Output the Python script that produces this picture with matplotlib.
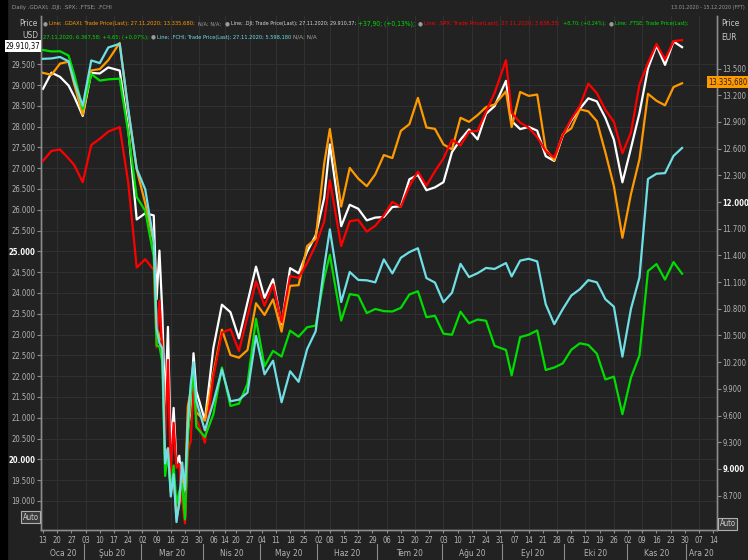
import numpy as np
import pandas as pd
import matplotlib
matplotlib.use('Agg')
import matplotlib.pyplot as plt
from matplotlib import font_manager

W, H = 748, 560

# sample dates (daily through the March crash, every ~3 trading days elsewhere)
dates = ['2020-01-13', '2020-01-16', '2020-01-21', '2020-01-24', '2020-01-28', '2020-01-31',
         '2020-02-05', '2020-02-10', '2020-02-13', '2020-02-19', '2020-02-24', '2020-02-27',
         '2020-03-03', '2020-03-06', '2020-03-09', '2020-03-10', '2020-03-11', '2020-03-12',
         '2020-03-13', '2020-03-16', '2020-03-17', '2020-03-18', '2020-03-19', '2020-03-20',
         '2020-03-23', '2020-03-24', '2020-03-25', '2020-03-26', '2020-03-27', '2020-04-01',
         '2020-04-06', '2020-04-09', '2020-04-16', '2020-04-21', '2020-04-24', '2020-04-29',
         '2020-05-05', '2020-05-08', '2020-05-13', '2020-05-18', '2020-05-21', '2020-05-26',
         '2020-05-29', '2020-06-04', '2020-06-08', '2020-06-12', '2020-06-17', '2020-06-22',
         '2020-06-25', '2020-06-30', '2020-07-03', '2020-07-08', '2020-07-13', '2020-07-16',
         '2020-07-21', '2020-07-24', '2020-07-29', '2020-08-03', '2020-08-06', '2020-08-11',
         '2020-08-14', '2020-08-19', '2020-08-24', '2020-08-27', '2020-09-02', '2020-09-04',
         '2020-09-09', '2020-09-14', '2020-09-17', '2020-09-22', '2020-09-25', '2020-09-30',
         '2020-10-05', '2020-10-08', '2020-10-13', '2020-10-16', '2020-10-21', '2020-10-26',
         '2020-10-29', '2020-11-03', '2020-11-06', '2020-11-11', '2020-11-16', '2020-11-19',
         '2020-11-24', '2020-11-27']

dji = [28907, 29297, 29196, 28989, 28723, 28256, 29291, 29277, 29423, 29348, 27961, 25767,
       25917, 25865, 23851, 25018, 23553, 21200, 23185, 20189, 21237, 19899, 20087, 19174,
       18591, 20704, 21200, 22552, 21637, 20943, 22680, 23719, 23538, 22908, 23775, 24634,
       23883, 24331, 23247, 24597, 24474, 24995, 25383, 26282, 27572, 25606, 26120, 26025,
       25746, 25813, 25827, 26067, 26086, 26734, 26840, 26470, 26540, 26664, 27387, 27687,
       27931, 27693, 28308, 28493, 29100, 28133, 27940, 27993, 27902, 27289, 27174, 27782,
       28149, 28426, 28680, 28607, 28211, 27686, 26660, 27480, 28323, 29398, 29950, 29483,
       30046, 29910]

spx = [3288, 3317, 3321, 3295, 3276, 3226, 3334, 3352, 3373, 3386, 3226, 2979,
       3003, 2972, 2747, 2882, 2741, 2481, 2711, 2386, 2529, 2398, 2409, 2305,
       2237, 2447, 2476, 2630, 2541, 2471, 2664, 2790, 2800, 2737, 2837, 2939,
       2868, 2930, 2820, 2954, 2949, 2992, 3044, 3112, 3232, 3041, 3113, 3117,
       3083, 3100, 3130, 3169, 3155, 3215, 3257, 3216, 3258, 3295, 3349, 3333,
       3373, 3375, 3431, 3485, 3580, 3427, 3399, 3384, 3357, 3316, 3298, 3363,
       3409, 3447, 3512, 3484, 3436, 3401, 3310, 3370, 3509, 3572, 3627, 3582,
       3635, 3638]

gdaxi = [13452, 13429, 13556, 13577, 13323, 12982, 13479, 13494, 13595, 13789, 13035, 12367,
         11985, 11542, 10625, 10475, 10439, 9161, 9232, 8742, 8939, 8442, 8610, 8929,
         8741, 9701, 9874, 10001, 9633, 9544, 10075, 10565, 10280, 10250, 10336, 10862,
         10730, 10905, 10542, 11058, 11065, 11505, 11587, 12431, 12820, 11949, 12383, 12263,
         12178, 12311, 12528, 12494, 12800, 12875, 13171, 12838, 12822, 12647, 12592, 12947,
         12901, 12977, 13067, 13096, 13243, 12842, 13237, 13193, 13208, 12595, 12469, 12761,
         12828, 13042, 13019, 12909, 12558, 12178, 11598, 12088, 12480, 13216, 13138, 13087,
         13292, 13335]

ftse = [7617, 7609, 7610, 7586, 7481, 7286, 7483, 7446, 7453, 7457, 7157, 6796,
        6718, 6463, 5966, 5960, 5876, 5237, 5366, 5151, 5295, 5080, 5152, 5191,
        4994, 5446, 5688, 5816, 5510, 5455, 5582, 5843, 5628, 5641, 5752, 6115,
        5849, 5936, 5904, 6049, 6015, 6068, 6077, 6341, 6473, 6105, 6253, 6245,
        6147, 6170, 6158, 6156, 6176, 6251, 6269, 6124, 6132, 6032, 6026, 6155,
        6090, 6111, 6104, 5964, 5941, 5799, 6013, 6026, 6050, 5829, 5843, 5866,
        5942, 5978, 5969, 5920, 5776, 5792, 5582, 5786, 5910, 6382, 6421, 6334,
        6432, 6367]

fchi = [6037, 6039, 6046, 6025, 5925, 5806, 6029, 6016, 6093, 6111, 5792, 5496,
        5394, 5140, 4708, 4637, 4611, 4044, 4118, 3881, 3991, 3755, 3855, 4049,
        3914, 4243, 4432, 4543, 4351, 4207, 4346, 4507, 4350, 4358, 4393, 4672,
        4483, 4550, 4345, 4498, 4446, 4607, 4695, 5012, 5197, 4839, 4987, 4948,
        4946, 4936, 5049, 4980, 5057, 5085, 5104, 4957, 4935, 4838, 4885, 5027,
        4962, 4981, 5007, 5002, 5031, 4965, 5043, 5052, 5039, 4828, 4730, 4804,
        4871, 4902, 4947, 4936, 4853, 4816, 4570, 4805, 4960, 5445, 5471, 5474,
        5559, 5598]

holidays = ['2020-04-10', '2020-04-13', '2020-05-01', '2020-06-01']
left_ticks = list(range(19000, 30000, 500))
right_ticks = list(range(8700, 13600, 300))
months_tr = ['Oca', 'Şub', 'Mar', 'Nis', 'May', 'Haz', 'Tem', 'Ağu', 'Eyl', 'Eki', 'Kas', 'Ara']

BG = '#222222'
GRID = '#303030'
AXIS = '#8c8c8c'
TXT = '#b4b4b4'
C_DAX = '#ff9900'
C_DJI = '#ffffff'
C_SPX = '#ff0000'
C_FTSE = '#00dd00'
C_FCHI = '#6fdfe6'

# pick the narrowest sans that is installed
fonts = font_manager.fontManager.ttflist
names = {f.name for f in fonts}
narrow = sorted(n for n in names if 'Narrow' in n or 'Condensed' in n)
if 'Liberation Sans Narrow' in names:
    plt.rcParams['font.family'] = 'Liberation Sans Narrow'
elif any(f.name == 'DejaVu Sans' and f.stretch == 'condensed' for f in fonts):
    plt.rcParams['font.family'] = 'DejaVu Sans'
    plt.rcParams['font.stretch'] = 'condensed'
elif narrow:
    plt.rcParams['font.family'] = narrow[0]
else:
    plt.rcParams['font.family'] = 'Liberation Sans'

# trading-day axis (weekends and exchange holidays removed)
days = pd.bdate_range('2020-01-13', '2020-12-15', freq='C', holidays=holidays)
x = days.get_indexer(pd.to_datetime(dates))
x_lo, x_hi = -0.8, 237.3

fig = plt.figure(figsize=(W / 100, H / 100), dpi=100, facecolor=BG)
fig.patches.append(plt.Rectangle((0, 0), 7 / W, 1, transform=fig.transFigure,
                                 color='black', zorder=0))

ax = fig.add_axes([40.7 / W, 1 - 530 / H, (717 - 40.7) / W, (530 - 16) / H])
ax.set_facecolor(BG)
ax.set_xlim(x_lo, x_hi)
ax.set_ylim(18302, 30659)

# right axis (EUR) and hidden per-series scales
ax_dax = ax.twinx()
ax_dax.set_ylim(8313, 14091)
ax_spx = ax.twinx()
ax_spx.set_ylim(2218, 3708)
ax_ftse = ax.twinx()
ax_ftse.set_ylim(4935, 7807)
ax_fchi = ax.twinx()
ax_fchi.set_ylim(3716, 6248)
for tw in (ax_spx, ax_ftse, ax_fchi):
    tw.yaxis.set_visible(False)
    for s in tw.spines.values():
        s.set_visible(False)

lw = 1.6
ax.plot(x, dji, color=C_DJI, lw=lw)
ax_dax.plot(x, gdaxi, color=C_DAX, lw=lw)
ax_spx.plot(x, spx, color=C_SPX, lw=lw)
ax_fchi.plot(x, fchi, color=C_FCHI, lw=lw)
ax_ftse.plot(x, ftse, color=C_FTSE, lw=lw)

# spines
for a in (ax, ax_dax):
    a.spines['top'].set_visible(False)
    for side in ('left', 'right', 'bottom'):
        a.spines[side].set_color(AXIS)
        a.spines[side].set_linewidth(1)

# y ticks
def fmt(v):
    return f'{v:,.0f}'.replace(',', '.')

ax.set_yticks(left_ticks)
ax.set_yticklabels([fmt(v) for v in left_ticks])
ax_dax.set_yticks(right_ticks)
ax_dax.set_yticklabels([fmt(v) for v in right_ticks])
for a in (ax, ax_dax):
    a.tick_params(axis='y', colors=AXIS, labelcolor=TXT, labelsize=5.5, length=3, width=0.8, pad=1)
for lab in ax.get_yticklabels() + ax_dax.get_yticklabels():
    if lab.get_text() in ('25.000', '20.000', '12.000', '9.000'):
        lab.set_color('white')
        lab.set_fontweight('bold')

# grid
ax.grid(axis='y', color=GRID, lw=0.8)
ax.set_axisbelow(True)

# weekly x ticks
week_ticks = [i for i in range(len(days)) if i == 0 or days[i].weekday() < days[i - 1].weekday()]
ax.set_xticks(week_ticks)
ax.set_xticklabels([days[i].strftime('%d') for i in week_ticks])
ax.tick_params(axis='x', colors=AXIS, labelcolor=TXT, labelsize=5.5, length=2.5, width=0.8, pad=1.5)
for t in week_ticks[1::2]:
    ax.axvline(t, color=GRID, lw=0.8, zorder=0)

# month labels and separators
tr = ax.get_xaxis_transform()
ax_h = 530 - 16
for m in range(1, 13):
    idx = np.where(days.month == m)[0]
    a0 = max(idx[0] - 0.5, x_lo)
    b0 = x_hi if m == 12 else idx[-1] + 0.5
    ax.text((a0 + b0) / 2, -(553 - 530) / ax_h, f'{months_tr[m - 1]} 20', transform=tr,
            ha='center', va='center', color=TXT, fontsize=6)
    if m > 1:
        ax.plot([idx[0] - 0.5] * 2, [-(544 - 530) / ax_h, -(559 - 530) / ax_h],
                transform=tr, color=AXIS, lw=0.8, clip_on=False)

# texts fitted to the widths seen in the reference
renderer = fig.canvas.get_renderer()


def seg(x0, x1, y, s, color, **kw):
    t = fig.text(x0 / W, 1 - y / H, s, color=color, fontsize=5, va='center', **kw)
    w = t.get_window_extent(renderer).width
    t.set_fontsize(5 * (x1 - x0) / w)
    return t


def icon(xc, y):
    fig.text(xc / W, 1 - y / H, '●', color='#9a9a9a', fontsize=4.5, ha='center', va='center')


seg(12, 115, 8, 'Daily .GDAXI; .DJI; .SPX; .FTSE; .FCHI', '#9a9a9a')
seg(671, 745, 8, '13.01.2020 - 15.12.2020 (FFT)', '#9a9a9a')

r1, r2 = 24, 37
icon(45.5, r1)
seg(49, 196, r1, 'Line; .GDAXI; Trade Price(Last); 27.11.2020; 13.335,680;', C_DAX)
seg(198, 221, r1, 'N/A; N/A;', '#a0a0a0')
icon(227, r1)
seg(231, 356, r1, 'Line; .DJI; Trade Price(Last); 27.11.2020; 29.910,37;', '#d8d8d8')
seg(358, 416, r1, '+37,90; (+0,13%);', C_FTSE)
icon(420, r1)
seg(424, 561, r1, 'Line; .SPX; Trade Price(Last); 27.11.2020; 3.638,35;', C_SPX)
seg(563, 606, r1, '+8,70; (+0,24%);', C_FTSE)
icon(611, r1)
seg(615, 690, r1, 'Line; .FTSE; Trade Price(Last);', C_FTSE)
seg(43, 148, r2, '27.11.2020; 6.367,58; +4,65; (+0,07%);', C_FTSE)
icon(153, r2)
seg(157, 292, r2, 'Line; .FCHI; Trade Price(Last); 27.11.2020; 5.598,180', C_FCHI)
seg(293, 317, r2, 'N/A; N/A', '#a0a0a0')

fig.text(38 / W, 1 - 24 / H, 'Price', color='#c8c8c8', fontsize=6, ha='right', va='center')
fig.text(38 / W, 1 - 36 / H, 'USD', color='#c8c8c8', fontsize=6, ha='right', va='center')
fig.text(721 / W, 1 - 24 / H, 'Price', color='#c8c8c8', fontsize=6, ha='left', va='center')
fig.text(721 / W, 1 - 38 / H, 'EUR', color='#c8c8c8', fontsize=6, ha='left', va='center')

# last-value boxes
fig.text(23 / W, 1 - 46 / H, '29.910,37', color='black', fontsize=5.5, ha='center', va='center',
         bbox=dict(boxstyle='square,pad=0.15', fc='white', ec='none'))
fig.text(747 / W, 1 - 82 / H, '13.335,680', color='#222222', fontsize=5.5, ha='right',
         va='center', bbox=dict(boxstyle='square,pad=0.15', fc=C_DAX, ec='none'))

# "Auto" buttons
for xa, ya in ((30.5, 517), (727.5, 524)):
    fig.text(xa / W, 1 - ya / H, 'Auto', color='#d0d0d0', fontsize=5.5, ha='center', va='center',
             bbox=dict(boxstyle='square,pad=0.2', fc='#3a3a3a', ec='#b0b0b0', lw=0.8))

fig.savefig('out.png', dpi=100, facecolor=BG)
